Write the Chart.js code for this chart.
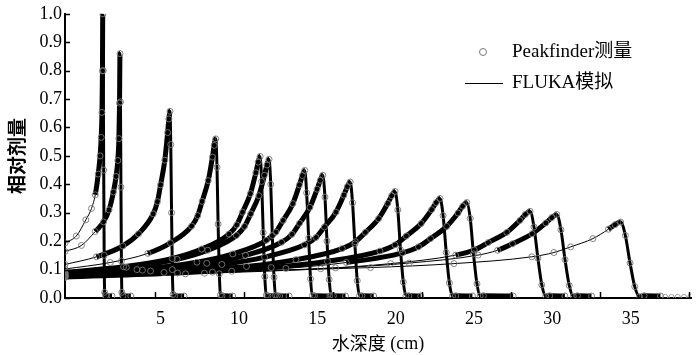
<!DOCTYPE html>
<html><head><meta charset="utf-8">
<script src="https://cdn.jsdelivr.net/npm/chart.js@4/dist/chart.umd.min.js"></script>
<style>html,body{margin:0;padding:0;background:#fff;}canvas{display:block;}</style>
</head><body>
<canvas id="c" width="700" height="355"></canvas>
<script>
// ---- data (depth in cm, relative dose) ----
const curve1Depth = [-1.1,-0.38,0.23,0.59,0.83,1.02,1.14,1.21,1.26,1.29,1.31,1.34,1.37,1.40,1.43,1.5,1.9];
const curve1Dose  = [.194,.218,.275,.315,.363,.436,.5,.565,.653,.799,1.0,.8,.45,.15,.02,.008,.007];
const curve2Depth = [-1.1,-0.05,0.83,1.36,1.71,1.99,2.16,2.27,2.34,2.38,2.41,2.44,2.47,2.50,2.53,2.6,3.1];
const curve2Dose  = [.164,.185,.234,.268,.31,.373,.428,.484,.561,.686,.86,.69,.39,.13,.02,.008,.007];
const curve3Depth = [-1.1,0.91,2.59,3.59,4.53,4.80,5.0,5.27,5.45,5.53,5.6,5.65,5.70,5.75,5.80,5.9,6.5];
const curve3Dose  = [.118,.145,.183,.226,.296,.339,.398,.485,.582,.63,.657,.54,.30,.10,.013,.008,.007];
const curve4Depth = [-1.1,1.79,4.19,5.63,6.98,7.37,7.65,8.04,8.31,8.42,8.52,8.6,8.67,8.75,8.82,8.92,9.6];
const curve4Dose  = [.102,.125,.157,.194,.253,.29,.34,.413,.496,.537,.56,.46,.26,.085,.011,.008,.007];
const curve5Depth = [-1.1,2.64,5.75,7.62,9.36,9.86,10.23,10.73,11.08,11.23,11.35,11.45,11.55,11.65,11.75,11.85,12.6];
const curve5Dose  = [.09,.11,.139,.172,.225,.257,.302,.367,.441,.478,.498,.41,.23,.075,.01,.008,.007];
const curve6Depth = [-1.1,2.81,6.06,8.01,9.84,10.36,10.75,11.27,11.63,11.79,11.92,12.03,12.13,12.24,12.34,12.45,13.2];
const curve6Dose  = [.088,.108,.136,.168,.22,.252,.296,.36,.432,.468,.488,.40,.22,.073,.01,.008,.007];
const curve7Depth = [-1.1,3.49,7.32,9.61,11.75,12.36,12.82,13.44,13.86,14.05,14.2,14.32,14.45,14.57,14.7,14.82,15.8];
const curve7Dose  = [.082,.1,.126,.155,.203,.232,.273,.332,.398,.431,.449,.37,.21,.067,.009,.008,.007];
const curve8Depth = [-1.1,3.84,7.95,10.42,12.72,13.38,13.87,14.53,14.99,15.19,15.35,15.49,15.62,15.76,15.89,16.03,16.8];
const curve8Dose  = [.08,.098,.122,.15,.196,.224,.263,.319,.383,.414,.432,.355,.2,.065,.009,.008,.007];
const curve9Depth = [-1.1,4.36,8.91,11.64,14.19,14.92,15.46,16.19,16.70,16.92,17.1,17.25,17.4,17.55,17.7,17.85,18.6];
const curve9Dose  = [.078,.095,.118,.144,.187,.213,.25,.302,.362,.392,.408,.335,.19,.061,.008,.008,.007];
const curve10Depth = [-1.1,5.22,10.48,13.64,16.59,17.43,18.07,18.91,19.50,19.75,19.96,20.14,20.31,20.49,20.66,20.84,21.6];
const curve10Dose  = [.075,.09,.111,.135,.174,.198,.231,.279,.333,.36,.375,.31,.17,.056,.008,.008,.007];
const curve11Depth = [-1.1,6.08,12.06,15.65,19.0,19.96,20.68,21.63,22.30,22.59,22.83,23.03,23.23,23.43,23.63,23.83,24.9];
const curve11Dose  = [.074,.088,.107,.129,.165,.187,.218,.262,.311,.336,.35,.29,.16,.053,.007,.008,.007];
const curve12Depth = [-1.1,6.59,13.0,16.85,20.44,21.46,22.23,23.26,23.98,24.28,24.54,24.76,24.97,25.19,25.4,25.6,27.5];
const curve12Dose  = [.072,.085,.104,.125,.159,.18,.209,.252,.299,.323,.336,.28,.155,.05,.007,.008,.007];
const curve13Depth = [-1.1,7.8,15.22,19.68,23.83,25.02,25.91,27.10,27.93,28.28,28.58,28.83,29.08,29.33,29.58,29.83,30.8];
const curve13Dose  = [.075,.087,.103,.121,.151,.169,.195,.231,.273,.294,.305,.25,.14,.046,.006,.008,.007];
const curve14Depth = [-1.1,8.31,16.16,20.87,25.26,26.51,27.46,28.71,29.59,29.97,30.28,30.55,30.81,31.08,31.34,31.6,32.5];
const curve14Dose  = [.08,.091,.106,.123,.151,.168,.191,.226,.264,.283,.294,.24,.135,.044,.006,.008,.007];
const curve15Depth = [-1.1,9.54,18.4,23.72,28.69,30.1,31.17,32.59,33.58,34.0,34.36,34.66,34.96,35.26,35.56,35.86,36.9];
const curve15Dose  = [.085,.094,.107,.121,.145,.16,.18,.209,.242,.258,.267,.22,.123,.04,.005,.008,.007];
const tailDepth = [37.2,37.6,38.0,38.4,38.8];
const tailDose  = [.004,.004,.004,.004,.004];

const xTickLabels = [5,10,15,20,25,30,35];
const xTickMarks  = [4.65,10.33,16.01,21.69,27.37,33.05,38.72];
const yTickValues = [0,0.1,0.2,0.3,0.4,0.5,0.6,0.7,0.8,0.9,1.0];

const legendMeasured = 'Peakfinder测量';
const legendSim = 'FLUKA模拟';
const xTitle = ['水深度', ' (cm)'];
const yTitle = '相对剂量';

// style: index where the dense (thick) part of each curve starts
const thickStart = [4,2,1,2,0,0,0,0,0,0,0,3,4,5,8];

const curveDepths = [curve1Depth,curve2Depth,curve3Depth,curve4Depth,curve5Depth,curve6Depth,curve7Depth,curve8Depth,curve9Depth,curve10Depth,curve11Depth,curve12Depth,curve13Depth,curve14Depth,curve15Depth];
const curveDoses  = [curve1Dose,curve2Dose,curve3Dose,curve4Dose,curve5Dose,curve6Dose,curve7Dose,curve8Dose,curve9Dose,curve10Dose,curve11Dose,curve12Dose,curve13Dose,curve14Dose,curve15Dose];

const pts = (xs, ys) => xs.map((x,i)=>({x:x, y:ys[i]}));

const datasets = [];
curveDepths.forEach((xs, i) => {
  const ts = thickStart[i];
  datasets.push({
    label: 'FLUKA ' + (i+1),
    data: pts(xs, curveDoses[i]),
    borderColor: '#000',
    borderWidth: 1,
    pointRadius: 0,
    cubicInterpolationMode: 'monotone',
    fill: false,
    order: 2,
    segment: {
      borderWidth: c => {
        const k = c.p0DataIndex;
        if (k < ts) return 1;
        if (k >= 10 && k < 14) return 3;
        return 5;
      }
    }
  });
});
curveDepths.forEach((xs, i) => {
  datasets.push({
    label: 'Peakfinder ' + (i+1),
    data: pts(xs, curveDoses[i]),
    showLine: false,
    pointStyle: 'circle',
    pointRadius: 3,
    pointBorderWidth: 1,
    pointBorderColor: 'rgba(120,120,120,0.9)',
    pointBackgroundColor: 'rgba(0,0,0,0)',
    order: 1
  });
});
datasets.push({
  label: 'Peakfinder tail',
  data: pts(tailDepth, tailDose),
  showLine: false,
  pointRadius: 2.5,
  pointBorderWidth: 1,
  pointBorderColor: 'rgba(150,150,150,0.9)',
  pointBackgroundColor: 'rgba(0,0,0,0)',
  order: 1
});

const serif = "'Liberation Serif','Times New Roman',serif";
const cjk = "'Noto Sans CJK SC','Noto Sans CJK JP',sans-serif";

const deco = {
  id: 'deco',
  afterDraw(chart) {
    const ctx = chart.ctx, xs = chart.scales.x, ys = chart.scales.y;
    const ca = chart.chartArea;
    ctx.save();
    ctx.strokeStyle = '#000'; ctx.lineWidth = 1.5;
    yTickValues.forEach(v => {
      const y = Math.round(ys.getPixelForValue(v)) + 0.5;
      ctx.beginPath(); ctx.moveTo(ca.left, y); ctx.lineTo(ca.left + 5, y); ctx.stroke();
    });
    xTickMarks.forEach(v => {
      const x = Math.round(xs.getPixelForValue(v)) + 0.5;
      ctx.beginPath(); ctx.moveTo(x, ca.bottom); ctx.lineTo(x, ca.bottom - 6); ctx.stroke();
    });
    // legend
    ctx.lineWidth = 1;
    ctx.strokeStyle = 'rgba(120,120,120,1)';
    ctx.beginPath(); ctx.arc(483, 52, 3.5, 0, Math.PI*2); ctx.stroke();
    ctx.strokeStyle = '#000';
    ctx.beginPath(); ctx.moveTo(465, 83.5); ctx.lineTo(503, 83.5); ctx.stroke();
    ctx.fillStyle = '#000';
    ctx.textBaseline = 'middle'; ctx.textAlign = 'left';
    ctx.font = "19px " + serif + "," + cjk;
    ctx.fillText(legendMeasured, 512, 52);
    ctx.fillText(legendSim, 512, 83);
    // x title
    ctx.font = "18px " + cjk;
    const w1 = ctx.measureText(xTitle[0]).width;
    ctx.font = "18px " + serif;
    const w2 = ctx.measureText(xTitle[1]).width;
    let x0 = (ca.left + ca.right)/2 - (w1 + w2)/2;
    ctx.font = "18px " + cjk; ctx.fillText(xTitle[0], x0, 343);
    ctx.font = "18px " + serif; ctx.fillText(xTitle[1], x0 + w1, 344);
    // y title
    ctx.translate(17, (ca.top + ca.bottom)/2);
    ctx.rotate(-Math.PI/2);
    ctx.textAlign = 'center';
    ctx.font = "bold 19px " + cjk;
    ctx.fillText(yTitle, 0, 0);
    ctx.restore();
  }
};

new Chart(document.getElementById('c'), {
  type: 'line',
  data: { datasets },
  options: {
    responsive: false,
    animation: false,
    devicePixelRatio: 1,
    layout: { padding: { left: 0, right: 9, top: 10, bottom: 0 } },
    plugins: { legend: { display: false }, tooltip: { enabled: false } },
    scales: {
      x: {
        type: 'linear', min: -1.1, max: 38.85,
        afterBuildTicks: s => { s.ticks = xTickLabels.map(v => ({ value: v })); },
        afterFit: s => { s.height = 57; },
        grid: { display: false, drawTicks: false },
        border: { display: true, color: '#000', width: 2 },
        ticks: { color: '#000', font: { family: serif, size: 18 }, padding: 10, maxRotation: 0,
                 callback: v => String(v) }
      },
      y: {
        type: 'linear', min: 0, max: 1,
        afterBuildTicks: s => { s.ticks = yTickValues.map(v => ({ value: v })); },
        afterFit: s => { s.width = 65; },
        grid: { display: false, drawTicks: false },
        border: { display: true, color: '#000', width: 2 },
        ticks: { color: '#000', font: { family: serif, size: 18 }, padding: 3,
                 callback: v => Number(v).toFixed(1) }
      }
    }
  },
  plugins: [deco]
});
</script>
</body></html>
